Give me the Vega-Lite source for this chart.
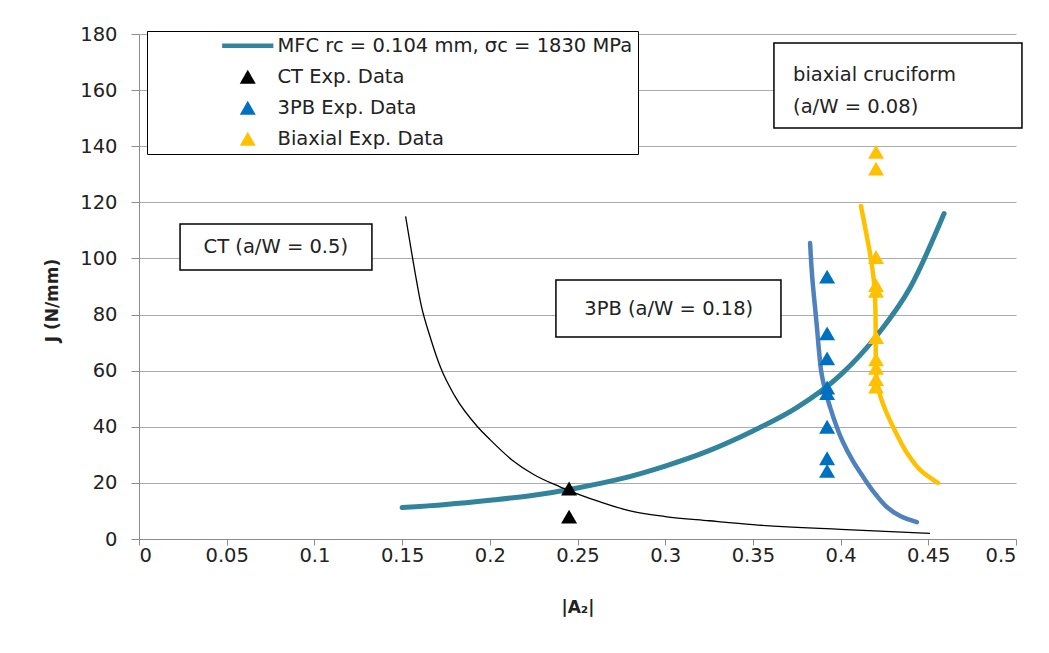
{
  "$schema": "https://vega.github.io/schema/vega-lite/v6.json",
  "width": 877,
  "height": 505,
  "autosize": "none",
  "padding": {"left": 139, "top": 34, "right": 33, "bottom": 114},
  "background": "white",
  "config": {
    "view": {"stroke": null},
    "font": "DejaVu Sans",
    "axis": {
      "labelFont": "DejaVu Sans",
      "labelFontSize": 19.5,
      "labelColor": "#222222",
      "titleFont": "DejaVu Sans",
      "titleFontSize": 17,
      "titleFontWeight": "bold",
      "titleColor": "#222222",
      "domainColor": "#8C8C8C",
      "tickColor": "#8C8C8C",
      "gridColor": "#ABABAB",
      "gridWidth": 1
    }
  },
  "datasets": {
    "curves": [
      {"series": "MFC", "A2": 0.150, "J": 11.2, "o": 1},
      {"series": "MFC", "A2": 0.175, "J": 12.3, "o": 2},
      {"series": "MFC", "A2": 0.200, "J": 13.8, "o": 3},
      {"series": "MFC", "A2": 0.225, "J": 15.6, "o": 4},
      {"series": "MFC", "A2": 0.250, "J": 18.2, "o": 5},
      {"series": "MFC", "A2": 0.275, "J": 21.5, "o": 6},
      {"series": "MFC", "A2": 0.300, "J": 26.0, "o": 7},
      {"series": "MFC", "A2": 0.325, "J": 31.5, "o": 8},
      {"series": "MFC", "A2": 0.350, "J": 38.5, "o": 9},
      {"series": "MFC", "A2": 0.375, "J": 46.8, "o": 10},
      {"series": "MFC", "A2": 0.400, "J": 58.5, "o": 11},
      {"series": "MFC", "A2": 0.420, "J": 72.0, "o": 12},
      {"series": "MFC", "A2": 0.440, "J": 90.0, "o": 13},
      {"series": "MFC", "A2": 0.459, "J": 116.0, "o": 14},
      {"series": "CT", "A2": 0.152, "J": 115, "o": 1},
      {"series": "CT", "A2": 0.156, "J": 100, "o": 2},
      {"series": "CT", "A2": 0.161, "J": 83, "o": 3},
      {"series": "CT", "A2": 0.166, "J": 72, "o": 4},
      {"series": "CT", "A2": 0.172, "J": 61, "o": 5},
      {"series": "CT", "A2": 0.180, "J": 51, "o": 6},
      {"series": "CT", "A2": 0.193, "J": 40, "o": 7},
      {"series": "CT", "A2": 0.200, "J": 35.5, "o": 8},
      {"series": "CT", "A2": 0.213, "J": 28, "o": 9},
      {"series": "CT", "A2": 0.225, "J": 23, "o": 10},
      {"series": "CT", "A2": 0.240, "J": 18.6, "o": 11},
      {"series": "CT", "A2": 0.263, "J": 13.2, "o": 12},
      {"series": "CT", "A2": 0.280, "J": 10, "o": 13},
      {"series": "CT", "A2": 0.300, "J": 8, "o": 14},
      {"series": "CT", "A2": 0.325, "J": 6.5, "o": 15},
      {"series": "CT", "A2": 0.350, "J": 5.1, "o": 16},
      {"series": "CT", "A2": 0.400, "J": 3.4, "o": 17},
      {"series": "CT", "A2": 0.451, "J": 2.0, "o": 18},
      {"series": "3PB", "A2": 0.3826, "J": 105.5, "o": 1},
      {"series": "3PB", "A2": 0.3833, "J": 98, "o": 2},
      {"series": "3PB", "A2": 0.3840, "J": 92, "o": 3},
      {"series": "3PB", "A2": 0.3852, "J": 84, "o": 4},
      {"series": "3PB", "A2": 0.3865, "J": 75.6, "o": 5},
      {"series": "3PB", "A2": 0.3877, "J": 67, "o": 6},
      {"series": "3PB", "A2": 0.3890, "J": 59.5, "o": 7},
      {"series": "3PB", "A2": 0.3912, "J": 53, "o": 8},
      {"series": "3PB", "A2": 0.3940, "J": 47, "o": 9},
      {"series": "3PB", "A2": 0.3972, "J": 41, "o": 10},
      {"series": "3PB", "A2": 0.4010, "J": 35, "o": 11},
      {"series": "3PB", "A2": 0.4068, "J": 28, "o": 12},
      {"series": "3PB", "A2": 0.4130, "J": 22, "o": 13},
      {"series": "3PB", "A2": 0.4192, "J": 16.5, "o": 14},
      {"series": "3PB", "A2": 0.4260, "J": 11.6, "o": 15},
      {"series": "3PB", "A2": 0.4340, "J": 8.2, "o": 16},
      {"series": "3PB", "A2": 0.4435, "J": 6, "o": 17},
      {"series": "Biaxial", "A2": 0.4116, "J": 118.7, "o": 1},
      {"series": "Biaxial", "A2": 0.4143, "J": 110, "o": 2},
      {"series": "Biaxial", "A2": 0.4167, "J": 102, "o": 3},
      {"series": "Biaxial", "A2": 0.4184, "J": 95, "o": 4},
      {"series": "Biaxial", "A2": 0.4194, "J": 88.7, "o": 5},
      {"series": "Biaxial", "A2": 0.4199, "J": 80, "o": 6},
      {"series": "Biaxial", "A2": 0.4200, "J": 70, "o": 7},
      {"series": "Biaxial", "A2": 0.4201, "J": 62, "o": 8},
      {"series": "Biaxial", "A2": 0.4207, "J": 56, "o": 9},
      {"series": "Biaxial", "A2": 0.4228, "J": 50.6, "o": 10},
      {"series": "Biaxial", "A2": 0.4262, "J": 45, "o": 11},
      {"series": "Biaxial", "A2": 0.4299, "J": 40, "o": 12},
      {"series": "Biaxial", "A2": 0.4339, "J": 35, "o": 13},
      {"series": "Biaxial", "A2": 0.4379, "J": 30.6, "o": 14},
      {"series": "Biaxial", "A2": 0.4453, "J": 24.6, "o": 15},
      {"series": "Biaxial", "A2": 0.4555, "J": 20, "o": 16}
    ],
    "points": [
      {"series": "CT Exp. Data", "A2": 0.2452, "J": 18},
      {"series": "CT Exp. Data", "A2": 0.2452, "J": 8},
      {"series": "3PB Exp. Data", "A2": 0.3923, "J": 93.5},
      {"series": "3PB Exp. Data", "A2": 0.3923, "J": 73.3},
      {"series": "3PB Exp. Data", "A2": 0.3923, "J": 64.4},
      {"series": "3PB Exp. Data", "A2": 0.3923, "J": 54},
      {"series": "3PB Exp. Data", "A2": 0.3923, "J": 52},
      {"series": "3PB Exp. Data", "A2": 0.3923, "J": 40},
      {"series": "3PB Exp. Data", "A2": 0.3923, "J": 28.8},
      {"series": "3PB Exp. Data", "A2": 0.3923, "J": 24.3},
      {"series": "Biaxial Exp. Data", "A2": 0.4202, "J": 138},
      {"series": "Biaxial Exp. Data", "A2": 0.4202, "J": 132},
      {"series": "Biaxial Exp. Data", "A2": 0.4202, "J": 100.5},
      {"series": "Biaxial Exp. Data", "A2": 0.4202, "J": 90.5},
      {"series": "Biaxial Exp. Data", "A2": 0.4202, "J": 88.5},
      {"series": "Biaxial Exp. Data", "A2": 0.4202, "J": 72},
      {"series": "Biaxial Exp. Data", "A2": 0.4202, "J": 64},
      {"series": "Biaxial Exp. Data", "A2": 0.4202, "J": 61},
      {"series": "Biaxial Exp. Data", "A2": 0.4202, "J": 57},
      {"series": "Biaxial Exp. Data", "A2": 0.4202, "J": 54.3}
    ],
    "boxes": [
      {"label": "CT (a/W = 0.5)", "x": 0.0234, "x2": 0.1328, "y": 95.9, "y2": 112.3, "tx": 0.078, "ty": 104.1},
      {"label": "3PB (a/W = 0.18)", "x": 0.2377, "x2": 0.366, "y": 72.0, "y2": 92.3, "tx": 0.302, "ty": 82.0}
    ],
    "bigbox": [
      {"label": ["biaxial cruciform", "(a/W = 0.08)"], "x": 0.362, "x2": 0.5034, "y": 146.5, "y2": 176.8, "tx": 0.3729, "ty": 165.4}
    ]
  },
  "layer": [
    {
      "data": {"name": "curves"},
      "transform": [{"filter": "datum.series === '3PB'"}],
      "mark": {"type": "line", "interpolate": "catmull-rom", "color": "#4F81BD", "strokeWidth": 4.5, "strokeCap": "round"},
      "encoding": {
        "x": {"field": "A2", "type": "quantitative", "scale": {"domain": [0, 0.5]},
          "axis": {"title": "|A₂|", "values": [0, 0.05, 0.1, 0.15, 0.2, 0.25, 0.3, 0.35, 0.4, 0.45, 0.5], "format": "~g", "grid": false, "tickSize": 6, "labelPadding": 1, "titleY": 68, "titleBaseline": "middle"}},
        "y": {"field": "J", "type": "quantitative", "scale": {"domain": [0, 180]},
          "axis": {"title": "J (N/mm)", "values": [0, 20, 40, 60, 80, 100, 120, 140, 160, 180], "tickSize": 8, "labelPadding": 14, "titleX": -87, "titleY": 266, "titleBaseline": "middle"}},
        "order": {"field": "o"}
      }
    },
    {
      "data": {"name": "curves"},
      "transform": [{"filter": "datum.series === 'Biaxial'"}],
      "mark": {"type": "line", "interpolate": "catmull-rom", "color": "#FFC000", "strokeWidth": 4.5, "strokeCap": "round"},
      "encoding": {
        "x": {"field": "A2", "type": "quantitative"},
        "y": {"field": "J", "type": "quantitative"},
        "order": {"field": "o"}
      }
    },
    {
      "data": {"name": "curves"},
      "transform": [{"filter": "datum.series === 'MFC'"}],
      "mark": {"type": "line", "interpolate": "monotone", "color": "#31849B", "strokeWidth": 5, "strokeCap": "round"},
      "encoding": {
        "x": {"field": "A2", "type": "quantitative"},
        "y": {"field": "J", "type": "quantitative"},
        "order": {"field": "o"}
      }
    },
    {
      "data": {"name": "curves"},
      "transform": [{"filter": "datum.series === 'CT'"}],
      "mark": {"type": "line", "interpolate": "monotone", "color": "#000000", "strokeWidth": 1.3},
      "encoding": {
        "x": {"field": "A2", "type": "quantitative"},
        "y": {"field": "J", "type": "quantitative"},
        "order": {"field": "o"}
      }
    },
    {
      "data": {"name": "points"},
      "mark": {"type": "point", "filled": true, "opacity": 1, "size": 256, "strokeWidth": 0},
      "encoding": {
        "x": {"field": "A2", "type": "quantitative"},
        "y": {"field": "J", "type": "quantitative"},
        "color": {"field": "series", "type": "nominal",
          "scale": {"domain": ["MFC rc = 0.104 mm, σc = 1830 MPa", "CT Exp. Data", "3PB Exp. Data", "Biaxial Exp. Data"], "range": ["#31849B", "#000000", "#0070C0", "#FFC000"]},
          "legend": {"title": null, "orient": "none", "legendX": 8, "legendY": -3, "strokeColor": "#000000", "fillColor": "#FFFFFF", "padding": 5, "symbolOffset": 86, "labelOffset": 20, "rowPadding": 10, "labelFont": "DejaVu Sans", "labelFontSize": 19.5, "labelColor": "#222222", "symbolSize": 256, "symbolStrokeWidth": 0, "labelLimit": 600}},
        "shape": {"field": "series", "type": "nominal",
          "scale": {"domain": ["MFC rc = 0.104 mm, σc = 1830 MPa", "CT Exp. Data", "3PB Exp. Data", "Biaxial Exp. Data"], "range": ["M-3.2,-0.27H3.2V0.27H-3.2Z", "triangle-up", "triangle-up", "triangle-up"]}}
      }
    },
    {
      "data": {"name": "boxes"},
      "mark": {"type": "rect", "fill": "white", "stroke": "black", "strokeWidth": 1.5},
      "encoding": {
        "x": {"field": "x", "type": "quantitative"},
        "x2": {"field": "x2"},
        "y": {"field": "y", "type": "quantitative"},
        "y2": {"field": "y2"}
      }
    },
    {
      "data": {"name": "boxes"},
      "mark": {"type": "text", "font": "DejaVu Sans", "fontSize": 19.5, "color": "#222222", "align": "center", "baseline": "middle"},
      "encoding": {
        "x": {"field": "tx", "type": "quantitative"},
        "y": {"field": "ty", "type": "quantitative"},
        "text": {"field": "label"}
      }
    },
    {
      "data": {"name": "bigbox"},
      "mark": {"type": "rect", "fill": "white", "stroke": "black", "strokeWidth": 1.5, "clip": false},
      "encoding": {
        "x": {"field": "x", "type": "quantitative"},
        "x2": {"field": "x2"},
        "y": {"field": "y", "type": "quantitative"},
        "y2": {"field": "y2"}
      }
    },
    {
      "data": {"name": "bigbox"},
      "mark": {"type": "text", "font": "DejaVu Sans", "fontSize": 19.5, "color": "#222222", "align": "left", "baseline": "middle", "lineHeight": 32},
      "encoding": {
        "x": {"field": "tx", "type": "quantitative"},
        "y": {"field": "ty", "type": "quantitative"},
        "text": {"field": "label"}
      }
    }
  ]
}
